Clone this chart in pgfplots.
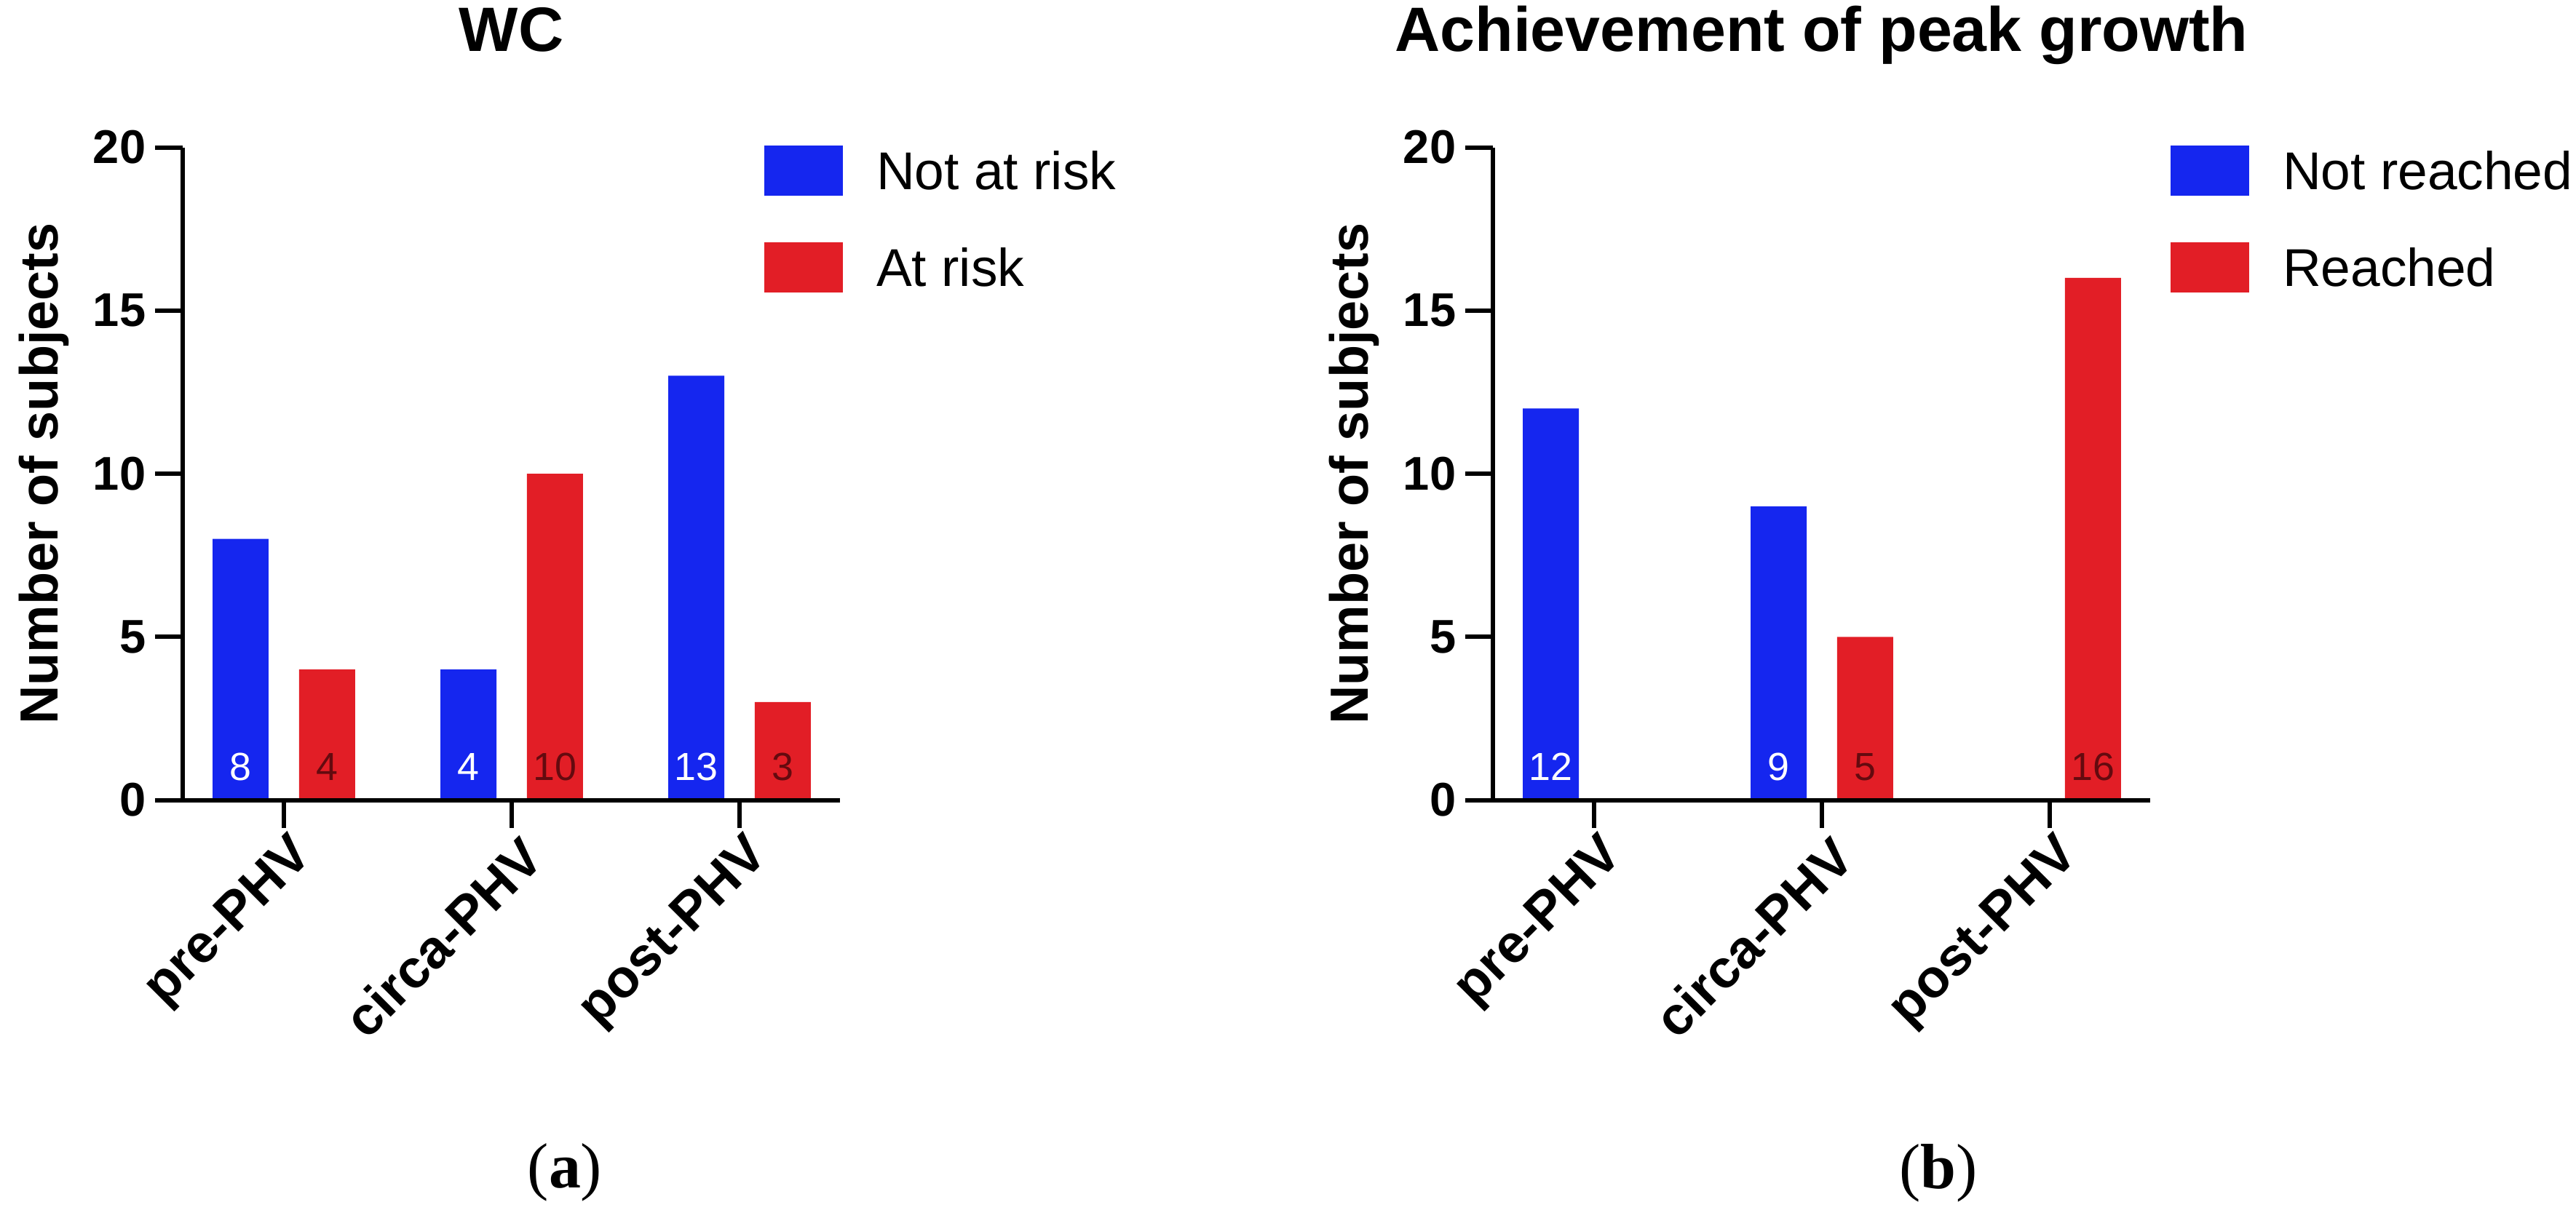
\documentclass[border=0pt]{standalone}
\usepackage{pgfplots}
\pgfplotsset{compat=1.18}
\usepackage{pgfplotstable}
\usepackage{fontspec}
\setmainfont{Liberation Sans}
\newfontfamily\seriffont{Liberation Serif}
\definecolor{barblue}{RGB}{21,38,239}
\definecolor{barred}{RGB}{226,30,38}
\definecolor{darklab}{RGB}{100,10,15}

\pgfplotstableread{
x y
0 8
1 4
2 13
}\wcnot
\pgfplotstableread{
x y
0 4
1 10
2 3
}\wcrisk
\pgfplotstableread{
x y
0 12
1 9
}\pgnot
\pgfplotstableread{
x y
1 5
2 16
}\pgreach

\pgfplotsset{
  panel/.style={
    scale only axis, width=9.03cm, height=8.97cm,
    xmin=-0.444, xmax=2.441, ymin=0, ymax=20,
    axis lines*=left, axis on top,
    axis line style={line width=0.06cm, black},
    xtick={0,1,2}, xticklabels={pre-PHV,circa-PHV,post-PHV},
    ytick={0,5,10,15,20},
    tick align=outside, major tick length=0.38cm,
    tick style={line width=0.06cm, black},
    /pgf/number format/assume math mode=true,
    yticklabel style={font=\fontsize{18.5}{18.5}\selectfont\bfseries, inner sep=0pt, xshift=-0.12cm},
    xticklabel style={font=\fontsize{21}{21}\selectfont\bfseries, rotate=45, anchor=east, inner sep=0pt, yshift=-0.40cm, xshift=0.02cm},
    title style={font=\fontsize{24.5}{24.5}\selectfont\bfseries, at={(0.5,1)}, anchor=base, yshift=1.11cm, inner sep=0pt},
    every axis y label/.style={at={(axis description cs:-0.1894,0.5)}, rotate=90, anchor=base, font=\fontsize{21}{21}\selectfont\bfseries, inner sep=0pt},
    ylabel={Number of subjects},
    legend cell align=left,
    legend style={draw=none, fill=none, anchor=north west, inner sep=0pt, outer sep=0pt,
      row sep=0.64cm, column sep=0.46cm,
      nodes={inner sep=0pt, text height=0.60cm, text depth=0cm, font=\fontsize{20.8}{20.8}\selectfont}},
  },
  mybars/.style={ybar, draw=none, fill=#1, bar width=0.246,
    legend image code/.code={\fill[#1] (0cm,-0.38cm) rectangle (1.08cm,0.31cm);},
    nodes near coords,
    visualization depends on={rawy \as \rawy},
    every node near coord/.append style={anchor=base, inner sep=0pt,
      font=\fontsize{15.3}{15.3}\selectfont,
      yshift=-\rawy*0.4485cm+0.27cm}},
}

\begin{document}
\begin{tikzpicture}
\useasboundingbox (0,0) rectangle (35.39cm,-16.73cm);
\begin{axis}[panel, at={(2.51cm,-10.995cm)}, anchor=south west,
  title={WC}, legend style={at={(0.885,1.003)}}]
\addplot[mybars=barblue, bar shift=-0.19, every node near coord/.append style={text=white, xshift=-0.595cm}] table[x=x,y=y] {\wcnot};
\addlegendentry{Not at risk}
\addplot[mybars=barred, bar shift=0.19, every node near coord/.append style={text=darklab, xshift=0.595cm}] table[x=x,y=y] {\wcrisk};
\addlegendentry{At risk}
\end{axis}
\begin{axis}[panel, at={(20.51cm,-10.995cm)}, anchor=south west,
  title={Achievement of peak growth}, legend style={at={(1.031,1.003)}}]
\addplot[mybars=barblue, bar shift=-0.19, every node near coord/.append style={text=white, xshift=-0.595cm}] table[x=x,y=y] {\pgnot};
\addlegendentry{Not reached}
\addplot[mybars=barred, bar shift=0.19, every node near coord/.append style={text=darklab, xshift=0.595cm}] table[x=x,y=y] {\pgreach};
\addlegendentry{Reached}
\end{axis}
\node[anchor=base, inner sep=0pt, font=\fontsize{25}{25}\selectfont\seriffont] at (7.76cm,-16.32cm) {(\textbf{a})};
\node[anchor=base, inner sep=0pt, font=\fontsize{25}{25}\selectfont\seriffont] at (26.63cm,-16.33cm) {(\textbf{b})};
\end{tikzpicture}
\end{document}
